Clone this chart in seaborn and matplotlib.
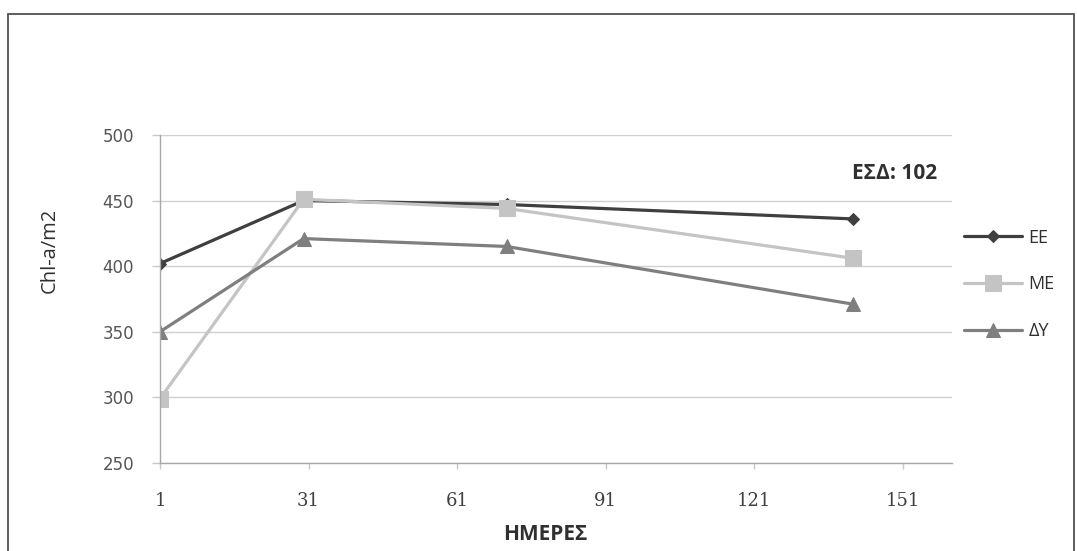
import matplotlib
matplotlib.use("Agg")
import matplotlib.pyplot as plt
from matplotlib.patches import Rectangle
import seaborn as sns
import pandas as pd

# Chlorophyll-a measurements per treatment over the sampling days
days = [1, 30, 71, 141]
ee_values = [402, 450, 447, 436]
me_values = [299, 451, 444, 406]
dy_values = [350, 421, 415, 371]
series_names = ["EE", "ME", "ΔY"]
x_ticks = [1, 31, 61, 91, 121, 151]
y_ticks = [250, 300, 350, 400, 450, 500]
lsd_label = "ΕΣΔ: 102"

df = pd.DataFrame({
    "day": days * 3,
    "chl": ee_values + me_values + dy_values,
    "series": [s for s in series_names for _ in days],
})

sns.set_theme(style="white")
plt.rcParams["font.family"] = ["DejaVu Sans"]

fig = plt.figure(figsize=(10.77, 5.51), dpi=100)
ax = fig.add_axes([0.1486, 0.160, 0.7354, 0.595])

colors = {"EE": "#3f3f3f", "ME": "#c4c4c4", "ΔY": "#7f7f7f"}
markers = {"EE": "D", "ME": "s", "ΔY": "^"}
msizes = {"EE": 6, "ME": 11, "ΔY": 10}

for name in series_names:
    sub = df[df["series"] == name]
    sns.lineplot(data=sub, x="day", y="chl", ax=ax, color=colors[name],
                 marker=markers[name], markersize=msizes[name],
                 markeredgecolor=colors[name], linewidth=2.3, label=name,
                 sort=False)

ax.set_xlim(1, 161)
ax.set_ylim(250, 500)
ax.set_xticks(x_ticks)
ax.set_yticks(y_ticks)
ax.set_xticklabels([str(t) for t in x_ticks], family="DejaVu Serif",
                   fontsize=13, color="#404040")
ax.set_yticklabels([str(t) for t in y_ticks], fontsize=12, color="#555555")

ax.grid(axis="y", color="#d0d0d0", linewidth=1)
ax.grid(axis="x", visible=False)
ax.set_axisbelow(True)
for side in ["top", "right"]:
    ax.spines[side].set_visible(False)
for side in ["left", "bottom"]:
    ax.spines[side].set_color("#a8a8a8")
    ax.spines[side].set_linewidth(1)
ax.tick_params(axis="both", which="major", direction="out", length=5,
               color="#c8c8c8", width=1, bottom=True, left=True)
ax.tick_params(axis="x", length=4.3, pad=16.5)
ax.tick_params(axis="y", length=5.8, pad=13)

ax.set_xlabel("ΗΜΕΡΕΣ", family="Open Sans", fontweight="bold", fontsize=15,
              color="#303030")
ax.xaxis.set_label_coords(0.486, -0.188)
ax.set_ylabel("Chl-a/m2", family="Open Sans", fontsize=14.5, color="#303030",
              va="center")
ax.yaxis.set_label_coords(-0.139, 0.649)

ax.text(0.981, 0.884, lsd_label, transform=ax.transAxes, ha="right",
        va="center", family="Open Sans", fontweight="bold", fontsize=15,
        color="#303030")

handles, labels = ax.get_legend_handles_labels()
ax.legend(handles, labels, loc="center left", bbox_to_anchor=(0.995, 0.544),
          frameon=False, labelspacing=1.6, handlelength=3.2,
          handletextpad=0.35, labelcolor="#303030",
          prop={"family": "Open Sans", "size": 13})

# outer chart frame
fig.patches.append(Rectangle((0.007, -0.01), 0.99, 0.985,
                             transform=fig.transFigure, fill=False,
                             edgecolor="#505050", linewidth=1.3))

fig.savefig("out.png", dpi=100, facecolor="white")
